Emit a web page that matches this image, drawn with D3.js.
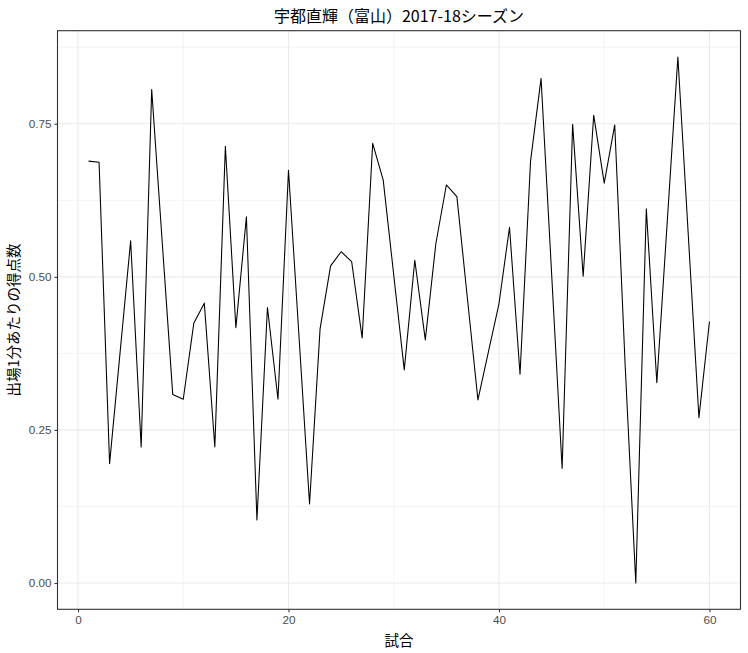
<!DOCTYPE html>
<html>
<head>
<meta charset="utf-8">
<script src="https://cdn.jsdelivr.net/npm/d3@7"></script>
<style>
  html, body { margin: 0; padding: 0; background: #fff; }
  svg { display: block; }
</style>
</head>
<body>
<svg id="chart" width="748" height="653"></svg>
<script>
const titleText = "宇都直輝（富山）2017-18シーズン";
const xLabel = "試合";
const yLabel = "出場1分あたりの得点数";
const games = d3.range(1, 61);
const pointsPerMinute = [
  0.689, 0.687, 0.195, 0.377, 0.559, 0.222, 0.806, 0.557, 0.308, 0.300,
  0.424, 0.457, 0.222, 0.713, 0.417, 0.598, 0.103, 0.450, 0.300, 0.674,
  0.402, 0.129, 0.415, 0.518, 0.541, 0.525, 0.400, 0.718, 0.658, 0.503,
  0.348, 0.527, 0.397, 0.554, 0.650, 0.631, 0.465, 0.299, 0.378, 0.456,
  0.581, 0.341, 0.689, 0.824, 0.506, 0.187, 0.749, 0.501, 0.764, 0.653,
  0.748, 0.352, 0.000, 0.611, 0.327, 0.593, 0.859, 0.565, 0.270, 0.427
];
const xTicks = [0, 20, 40, 60];
const yTicks = [0, 0.25, 0.5, 0.75];
const xMinor = [10, 30, 50];
const yMinor = [0.125, 0.375, 0.625, 0.875];

const data = games.map((g, i) => ({ game: g, value: pointsPerMinute[i] }));

const svg = d3.select("#chart");
const panel = { left: 57.5, right: 740.5, top: 30.7, bottom: 609.3 };

function expand(ext) {
  const pad = (ext[1] - ext[0]) * 0.05;
  return [ext[0] - pad, ext[1] + pad];
}
const x = d3.scaleLinear().domain(expand(d3.extent(games))).range([panel.left, panel.right]);
const y = d3.scaleLinear().domain(expand(d3.extent(pointsPerMinute))).range([panel.bottom, panel.top]);

const grid = svg.append("g");
// minor gridlines
grid.selectAll("line.ymin").data(yMinor.filter(v => y(v) > panel.top)).join("line")
  .attr("x1", panel.left).attr("x2", panel.right)
  .attr("y1", d => y(d)).attr("y2", d => y(d))
  .attr("stroke", "#EBEBEB").attr("stroke-width", 0.55);
grid.selectAll("line.xmin").data(xMinor).join("line")
  .attr("y1", panel.top).attr("y2", panel.bottom)
  .attr("x1", d => x(d)).attr("x2", d => x(d))
  .attr("stroke", "#EBEBEB").attr("stroke-width", 0.55);
// major gridlines
grid.append("g").selectAll("line").data(yTicks).join("line")
  .attr("x1", panel.left).attr("x2", panel.right)
  .attr("y1", d => y(d)).attr("y2", d => y(d))
  .attr("stroke", "#EBEBEB").attr("stroke-width", 1.1);
grid.append("g").selectAll("line").data(xTicks).join("line")
  .attr("y1", panel.top).attr("y2", panel.bottom)
  .attr("x1", d => x(d)).attr("x2", d => x(d))
  .attr("stroke", "#EBEBEB").attr("stroke-width", 1.1);

// line
const line = d3.line().x(d => x(d.game)).y(d => y(d.value));
svg.append("path").datum(data)
  .attr("d", line)
  .attr("fill", "none")
  .attr("stroke", "#000")
  .attr("stroke-width", 1.07)
  .attr("stroke-linejoin", "round");

// panel border
svg.append("rect")
  .attr("x", panel.left).attr("y", panel.top)
  .attr("width", panel.right - panel.left).attr("height", panel.bottom - panel.top)
  .attr("fill", "none").attr("stroke", "#333333").attr("stroke-width", 1.1);

// axes
const fontTick = "'Liberation Sans', Arial, sans-serif";
const xAxis = d3.axisBottom(x).tickValues(xTicks).tickSize(3).tickPadding(3).tickFormat(d3.format("d"));
const gx = svg.append("g").attr("transform", `translate(0,${panel.bottom})`).call(xAxis);
const yAxis = d3.axisLeft(y).tickValues(yTicks).tickSize(3).tickPadding(3).tickFormat(d3.format(".2f"));
const gy = svg.append("g").attr("transform", `translate(${panel.left},0)`).call(yAxis);
[gx, gy].forEach(g => {
  g.select(".domain").remove();
  g.selectAll(".tick line").attr("stroke", "#333333").attr("stroke-width", 1.1);
  g.selectAll(".tick text").attr("fill", "#4D4D4D")
    .style("font-family", fontTick).style("font-size", "11.7px");
});

const fontCJK = "'Noto Sans CJK JP', 'Noto Sans', sans-serif";
svg.append("text")
  .attr("x", (panel.left + panel.right) / 2).attr("y", 646)
  .attr("text-anchor", "middle")
  .style("font-family", fontCJK).style("font-size", "14.5px").attr("fill", "#000")
  .text(xLabel);

svg.append("text")
  .attr("transform", `translate(19,${(panel.top + panel.bottom) / 2}) rotate(-90)`)
  .attr("text-anchor", "middle")
  .style("font-family", fontCJK).style("font-size", "14.5px").attr("fill", "#000")
  .text(yLabel);

svg.append("text")
  .attr("x", (panel.left + panel.right) / 2).attr("y", 22)
  .attr("text-anchor", "middle")
  .style("font-family", fontCJK).style("font-size", "16px").attr("fill", "#000")
  .text(titleText);
</script>
</body>
</html>
